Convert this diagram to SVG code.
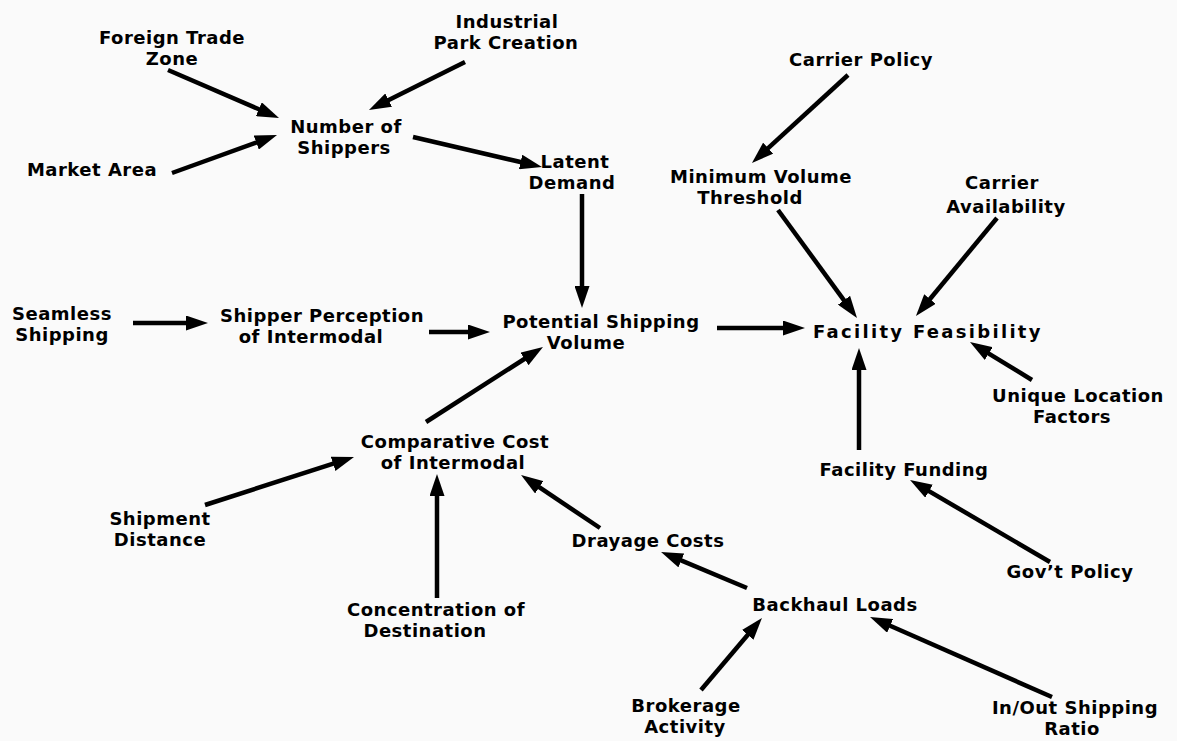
<svg xmlns="http://www.w3.org/2000/svg" width="1177" height="741" viewBox="0 0 1177 741">
<style>
text{font-family:"DejaVu Sans","Liberation Sans",sans-serif;font-weight:bold;font-size:18px;letter-spacing:0.5px;fill:#000;text-anchor:middle}
.c line{stroke:#000;stroke-width:4.5;marker-end:url(#ah)}
</style>
<defs>
<marker id="ah" viewBox="0 0 22 15" refX="10" refY="7.5" markerWidth="22" markerHeight="15" markerUnits="userSpaceOnUse" orient="auto">
<path d="M0,0 L22,7.5 L0,15 z" fill="#000"/>
</marker>
</defs>
<rect width="1177" height="741" fill="#fafafa"/>
<g class="c" id="connectors">
<line x1="168" y1="70" x2="268" y2="113.2"/>
<line x1="465" y1="62" x2="379.7" y2="104.6"/>
<line x1="172" y1="173" x2="265.7" y2="139.1"/>
<line x1="413" y1="137" x2="530.3" y2="164.3"/>
<line x1="582" y1="194" x2="582" y2="296"/>
<line x1="848" y1="75" x2="760.8" y2="154.9"/>
<line x1="778" y1="210" x2="849.9" y2="308.3"/>
<line x1="997" y1="218" x2="923.6" y2="306.7"/>
<line x1="133" y1="323" x2="196" y2="323"/>
<line x1="429" y1="332" x2="478" y2="332"/>
<line x1="717" y1="328" x2="793" y2="328"/>
<line x1="426" y1="422" x2="532.9" y2="353.5"/>
<line x1="205" y1="505" x2="342.6" y2="460.7"/>
<line x1="437" y1="598" x2="437" y2="486"/>
<line x1="600" y1="528" x2="531" y2="481.7"/>
<line x1="747" y1="588" x2="672.1" y2="556.6"/>
<line x1="701" y1="690" x2="754.2" y2="627.2"/>
<line x1="1052" y1="697" x2="881" y2="621.8"/>
<line x1="859" y1="450" x2="859" y2="360"/>
<line x1="1032" y1="380" x2="980.2" y2="348.3"/>
<line x1="1050" y1="562" x2="920.4" y2="486.1"/>
</g>
<g id="foreign-trade-zone"><text x="172" y="44">Foreign Trade</text><text x="172" y="65">Zone</text></g>
<g id="industrial-park"><text x="507" y="28">Industrial</text><text x="506" y="49">Park Creation</text></g>
<g id="number-of-shippers"><text x="346" y="133">Number of</text><text x="344" y="154">Shippers</text></g>
<g id="market-area"><text x="92" y="176">Market Area</text></g>
<g id="latent-demand"><text x="575" y="168">Latent</text><text x="572" y="189">Demand</text></g>
<g id="carrier-policy"><text x="861" y="66">Carrier Policy</text></g>
<g id="minimum-volume"><text x="761" y="183">Minimum Volume</text><text x="750" y="204">Threshold</text></g>
<g id="carrier-availability"><text x="1002" y="189">Carrier</text><text x="1006" y="213">Availability</text></g>
<g id="seamless-shipping"><text x="62" y="320">Seamless</text><text x="62" y="341">Shipping</text></g>
<g id="shipper-perception"><text x="322" y="322">Shipper Perception</text><text x="311" y="343">of Intermodal</text></g>
<g id="potential-volume"><text x="601" y="328">Potential Shipping</text><text x="586" y="349">Volume</text></g>
<g id="facility-feasibility"><text x="927" y="338" textLength="228" lengthAdjust="spacing">Facility Feasibility</text></g>
<g id="unique-location"><text x="1078" y="402">Unique Location</text><text x="1072" y="423">Factors</text></g>
<g id="facility-funding"><text x="904" y="476">Facility Funding</text></g>
<g id="comparative-cost"><text x="455" y="448">Comparative Cost</text><text x="453" y="469">of Intermodal</text></g>
<g id="shipment-distance"><text x="160" y="525">Shipment</text><text x="160" y="546">Distance</text></g>
<g id="drayage-costs"><text x="648" y="547">Drayage Costs</text></g>
<g id="govt-policy"><text x="1070" y="578">Gov’t Policy</text></g>
<g id="backhaul-loads"><text x="835" y="611">Backhaul Loads</text></g>
<g id="concentration"><text x="436" y="616">Concentration of</text><text x="425" y="637">Destination</text></g>
<g id="brokerage"><text x="686" y="712">Brokerage</text><text x="685" y="733">Activity</text></g>
<g id="inout-ratio"><text x="1075" y="714">In/Out Shipping</text><text x="1072" y="735">Ratio</text></g>
</svg>
